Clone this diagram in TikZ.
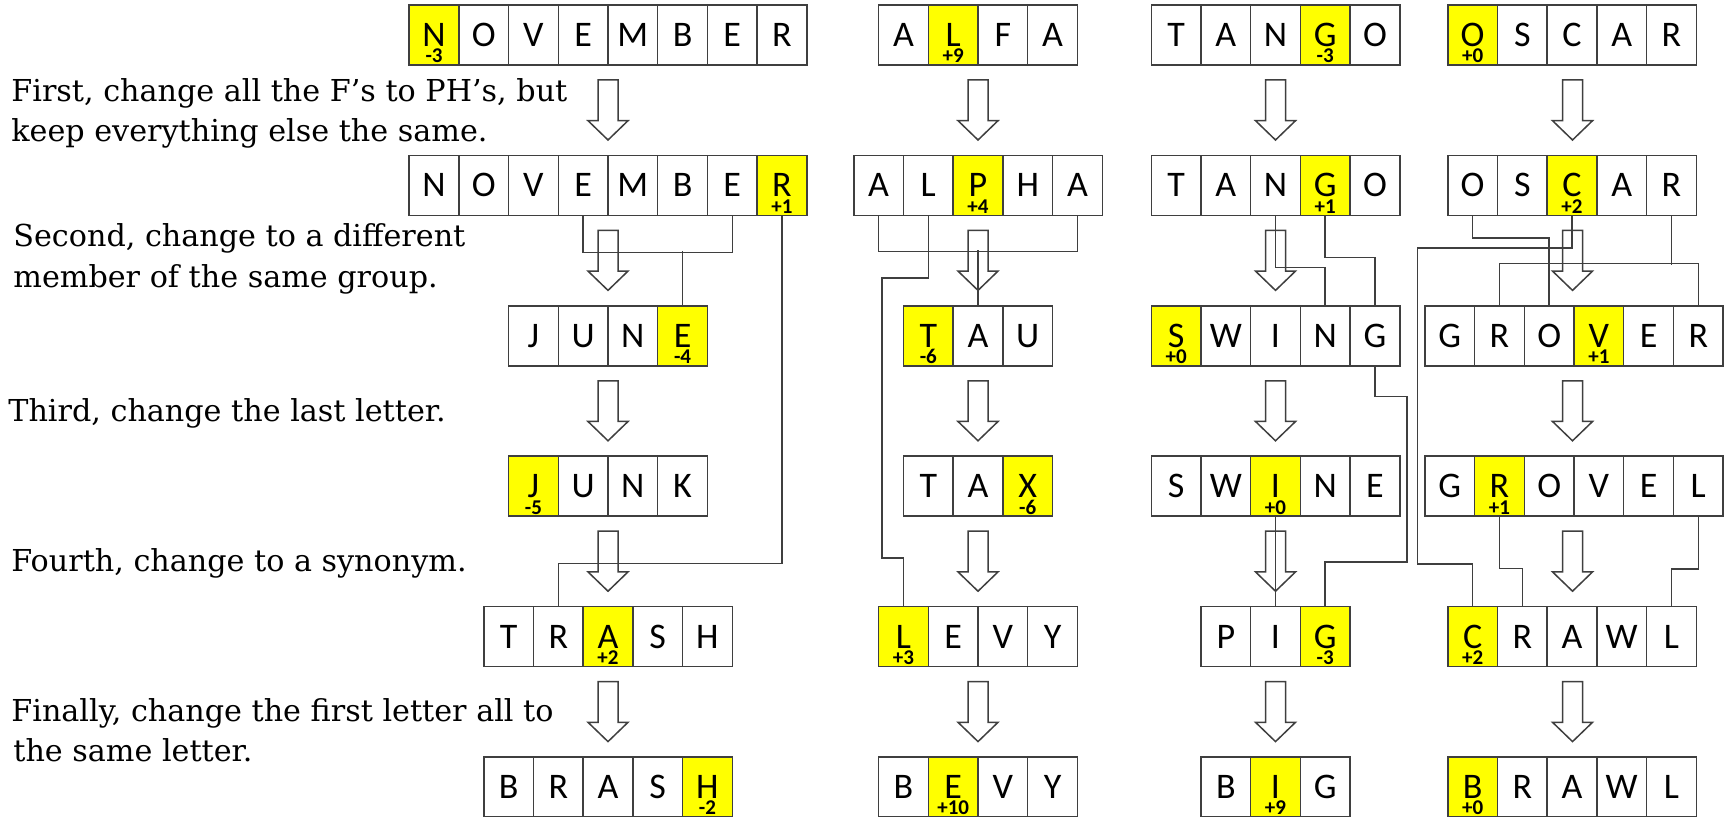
\documentclass[tikz,border=0pt]{standalone}
\usepackage{fontspec}
\setmainfont{DejaVu Serif}
\newfontfamily\cellfont{Carlito}
\definecolor{hiyellow}{HTML}{FFFF00}
\definecolor{boxline}{HTML}{3F3F3F}
\tikzset{
  cell/.style     = {draw=boxline,line width=0.75pt,minimum width=24.85pt,
                     minimum height=30pt,inner sep=0pt,text height=11.4pt,text depth=0pt,
                     font=\cellfont\fontsize{18}{18}\selectfont},
  numlbl/.style   = {anchor=base,inner sep=0pt,font=\cellfont\bfseries\fontsize{10.5}{10.5}\selectfont},
  link/.style     = {draw=boxline,line width=0.75pt},
  arrowbox/.style = {draw=boxline,fill=white,line width=0.75pt},
  note/.style     = {anchor=base west,inner sep=0pt,font=\fontsize{15.1}{20}\selectfont}
}
\newcommand{\cw}{49.7}
% name, centre x, centre y, letters count, letters, highlighted cell, shift
\newcommand{\wordrow}[7]{%
  \foreach \ltr [count=\i] in {#5}{%
    \ifnum\i=#6\relax\def\cellfill{hiyellow}\else\def\cellfill{white}\fi
    \node[cell,fill=\cellfill] (#1-\i) at ({#2+(\i-(#4+1)/2)*\cw},#3) {\ltr};
  }%
  \node[numlbl] (#1-n) at ([yshift=1.4pt]#1-#6.south) {#7};
}
\newcommand{\steparrow}[2]{%
  \draw[arrowbox] ({#1-10},{#2}) -- ({#1+10},{#2}) -- ({#1+10},{#2+40.7})
    -- ({#1+20},{#2+40.7}) -- ({#1},{#2+60}) -- ({#1-20},{#2+40.7})
    -- ({#1-10},{#2+40.7}) -- cycle;
}

\begin{document}
\begin{tikzpicture}[x=0.5pt,y=-0.5pt]
  \useasboundingbox (0,0) rectangle (1727,817);
  % block arrows between the rows
  \foreach \cx in {608,978,1275.5,1572.5}{
    \foreach \r in {0,...,4}{
      \steparrow{\cx}{80+150.4*\r}
    }
  }
  % steps
  \node[note] (first-a)  at (11,101.7) {First, change all the F’s to PH’s, but};
  \node[note] (first-b)  at (11,141.7) {keep everything else the same.};
  \node[note] (second-a) at (13,246.7) {Second, change to a different};
  \node[note] (second-b) at (13,287.3) {member of the same group.};
  \node[note] (third)    at (8,422)    {Third, change the last letter.};
  \node[note] (fourth)   at (11,571.7) {Fourth, change to a synonym.};
  \node[note] (final-a)  at (11,721.7) {Finally, change the first letter all to};
  \node[note] (final-b)  at (13,761.7) {the same letter.};
  % words
  \wordrow{nov}{608}{35}{8}{N,O,V,E,M,B,E,R}{1}{-3}
  \wordrow{nov2}{608}{185.4}{8}{N,O,V,E,M,B,E,R}{8}{+1}
  \wordrow{june}{608}{335.8}{4}{J,U,N,E}{4}{-4}
  \wordrow{junk}{608}{486.2}{4}{J,U,N,K}{1}{-5}
  \wordrow{trash}{608}{636.6}{5}{T,R,A,S,H}{3}{+2}
  \wordrow{brash}{608}{787}{5}{B,R,A,S,H}{5}{-2}

  \wordrow{alfa}{978}{35}{4}{A,L,F,A}{2}{+9}
  \wordrow{alpha}{978}{185.4}{5}{A,L,P,H,A}{3}{+4}
  \wordrow{tau}{978}{335.8}{3}{T,A,U}{1}{-6}
  \wordrow{tax}{978}{486.2}{3}{T,A,X}{3}{-6}
  \wordrow{levy}{978}{636.6}{4}{L,E,V,Y}{1}{+3}
  \wordrow{bevy}{978}{787}{4}{B,E,V,Y}{2}{+10}

  \wordrow{tango}{1275.5}{35}{5}{T,A,N,G,O}{4}{-3}
  \wordrow{tango2}{1275.5}{185.4}{5}{T,A,N,G,O}{4}{+1}
  \wordrow{swing}{1275.5}{335.8}{5}{S,W,I,N,G}{1}{+0}
  \wordrow{swine}{1275.5}{486.2}{5}{S,W,I,N,E}{3}{+0}
  \wordrow{pig}{1275.5}{636.6}{3}{P,I,G}{3}{-3}
  \wordrow{big}{1275.5}{787}{3}{B,I,G}{2}{+9}

  \wordrow{oscar}{1572}{35}{5}{O,S,C,A,R}{1}{+0}
  \wordrow{oscar2}{1572}{185.4}{5}{O,S,C,A,R}{3}{+2}
  \wordrow{grover}{1574}{335.8}{6}{G,R,O,V,E,R}{4}{+1}
  \wordrow{grovel}{1574}{486.2}{6}{G,R,O,V,E,L}{2}{+1}
  \wordrow{crawl}{1572}{636.6}{5}{C,R,A,W,L}{1}{+2}
  \wordrow{brawl}{1572}{787}{5}{B,R,A,W,L}{1}{+0}
  % where the letters go
  \draw[link] (nov2-4.south) -- ++(0,36.6) -| (nov2-7.south);
  \draw[link] (june-4.north) -- ++(0,-53.8);
  \draw[link] (nov2-8.south) -- ++(0,347.3) -| (trash-2.north);

  \draw[link] (alpha-1.south) -- ++(0,35.3) -| (alpha-5.south);
  \draw[link] (tau-2.north) -- ++(0,-55.1);
  \draw[link] (alpha-2.south) -- ++(0,62) -- ++(-46.5,0)
    |- ([yshift=24pt]levy-1.north) -- (levy-1.north);

  \draw[link] (tango2-3.south) -- ++(0,51.3) -| (swing-4.north);
  \draw[link] (tango2-4.south) -- ++(0,41.3) -| (swing-5.north);
  \draw[link] (swing-5.south) -- ++(0,30) -- ++(32,0)
    |- ([yshift=22pt]pig-3.north) -- (pig-3.north);
  \draw[link] (swine-3.south) -- (pig-2.north);

  \draw[link] (oscar2-1.south) -- ++(0,22) -| (grover-3.north);
  \draw[link] (oscar2-3.south) -- ++(0,32) -- ++(-154.3,0)
    |- ([yshift=21pt]crawl-1.north) -- (crawl-1.north);
  \draw[link] (oscar2-5.south) -- ++(0,49);
  \draw[link] (grover-2.north) -- ++(0,-41.4) -| (grover-6.north);
  \draw[link] (grovel-2.south) -- ++(0,51.5) -| (crawl-2.north);
  \draw[link] (grovel-6.south) -- ++(0,52) -| (crawl-5.north);
\end{tikzpicture}
\end{document}
